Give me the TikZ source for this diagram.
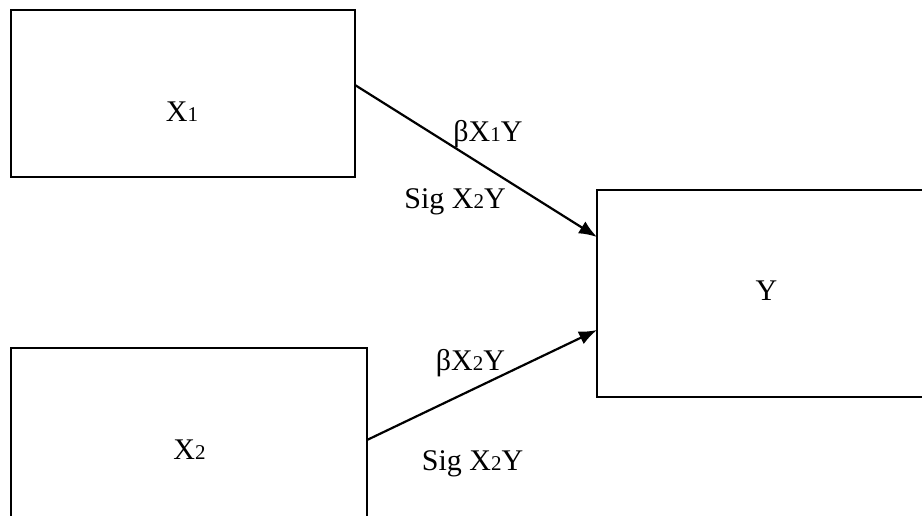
\documentclass[tikz,border=0pt]{standalone}
\usepackage{fontspec}
\setmainfont{Liberation Serif}
\usetikzlibrary{arrows.meta}

% digits set smaller, on the baseline
\newcommand{\sm}[1]{{\fontsize{21pt}{21pt}\selectfont #1}}

\begin{document}
\begin{tikzpicture}[x=1pt,y=-1pt,
  varbox/.style={draw, line width=2.2pt, inner sep=0pt, outer sep=0pt, fill=white},
  txt/.style={anchor=base, inner sep=0pt, font=\fontsize{30pt}{30pt}\selectfont},
  path/.style={line width=2.2pt, -{Latex[length=18pt,width=14pt]}}
]
\useasboundingbox (0,0) rectangle (922,515);
\fill[white] (0,0) rectangle (922,515);
\clip (0,0) rectangle (922,515);

% variable boxes
\node[varbox, minimum width=344pt, minimum height=167pt] (X1box) at (183,93.5) {};
\node[varbox, minimum width=356pt, minimum height=182pt] (X2box) at (189,439) {};
\node[varbox, minimum width=338pt, minimum height=207pt] (Ybox) at (766,293.5) {};

% box captions
\node[txt] (X1lbl) at (182,121) {X\sm{1}};
\node[txt] (X2lbl) at (189.5,459) {X\sm{2}};
\node[txt] (Ylbl) at (766.5,300) {Y};

% regression paths
\draw[path] ([yshift=8.5pt]X1box.east) -- ([yshift=56.5pt]Ybox.west);
\draw[path] ([yshift=-1pt]X2box.east) -- ([yshift=-36.5pt]Ybox.west);

% path labels
\node[txt] (b1) at (488,141) {βX\sm{1}Y};
\node[txt] (s1) at (455,208) {Sig X\sm{2}Y};
\node[txt] (b2) at (470.5,370) {βX\sm{2}Y};
\node[txt] (s2) at (472.5,470) {Sig X\sm{2}Y};
\end{tikzpicture}
\end{document}
